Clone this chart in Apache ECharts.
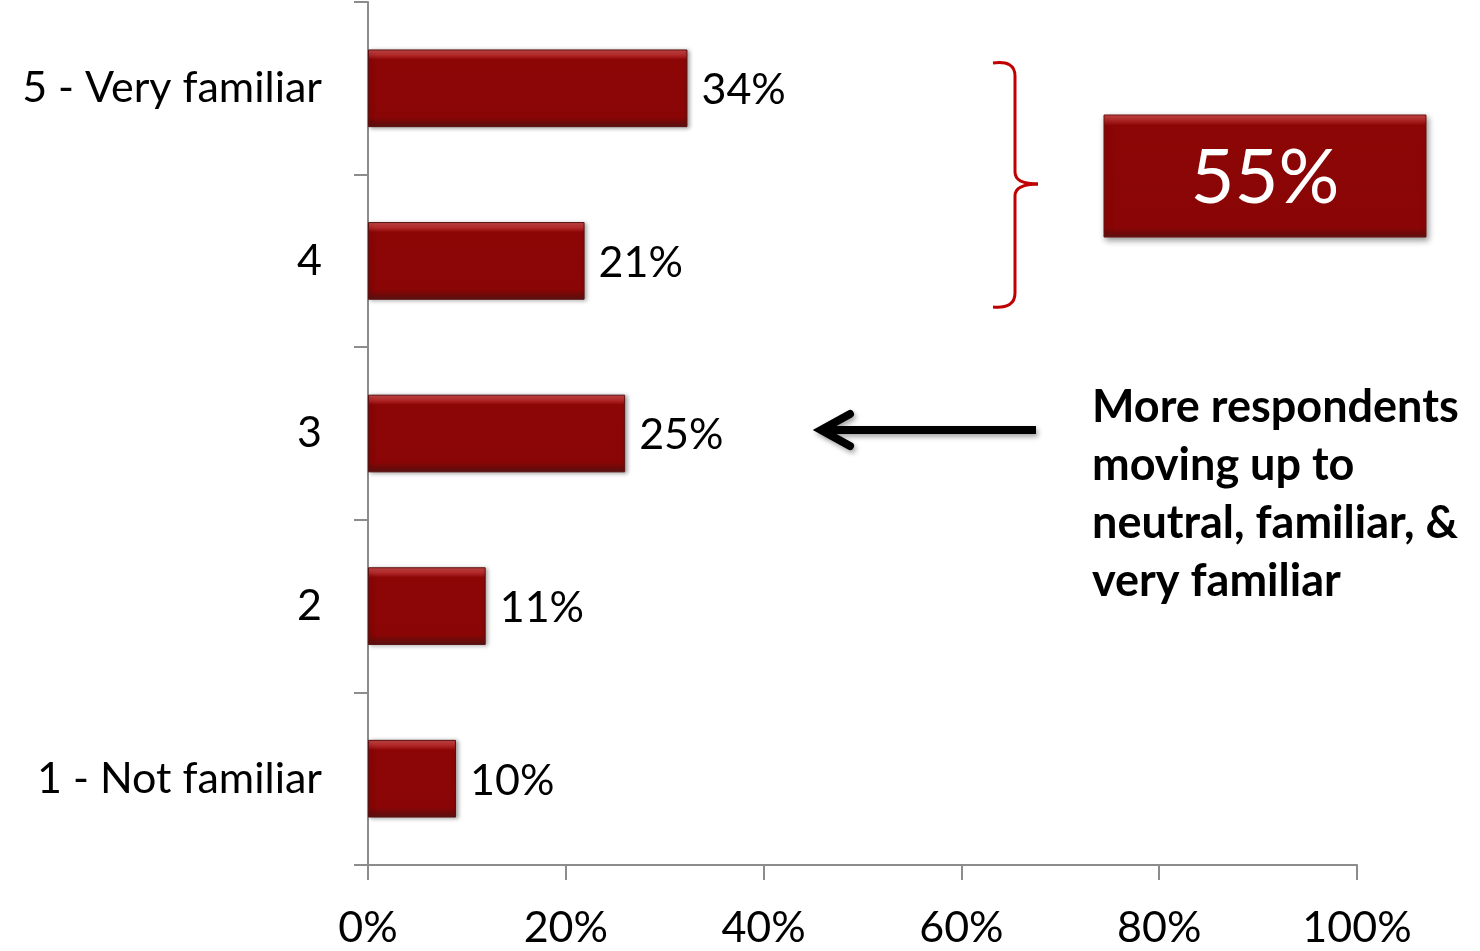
<!DOCTYPE html>
<html>
<head>
<meta charset="utf-8">
<script src="https://cdn.jsdelivr.net/npm/echarts@6/dist/echarts.min.js"></script>
<style>
html,body{margin:0;padding:0;background:#fff;}
#chart{width:1480px;height:951px;}
</style>
</head>
<body>
<div id="chart"></div>
<script>
// Data
const categories = ['1 - Not familiar', '2', '3', '4', '5 - Very familiar'];
const barLengths = [8.9, 11.9, 26.0, 21.9, 32.3];   // bar lengths as drawn (%)
const barLabels = ['10%', '11%', '25%', '21%', '34%']; // printed labels
const xTicks = [0, 20, 40, 60, 80, 100];
const topTwoLabel = '55%';
const noteLines = ['More respondents', 'moving up to', 'neutral, familiar, &', 'very familiar'];

const FONT = 'Lato';
const chart = echarts.init(document.getElementById('chart'), null, {renderer: 'canvas'});

const grad = (stops) => ({type: 'linear', x: 0, y: 0, x2: 0, y2: 1, colorStops: stops});

const barGradient = grad([
  {offset: 0, color: '#c94848'},
  {offset: 0.07, color: '#b52a2a'},
  {offset: 0.13, color: '#8c0606'},
  {offset: 0.87, color: '#8a0505'},
  {offset: 0.94, color: '#6e0a0a'},
  {offset: 1, color: '#5c1414'}
]);

const bracketStyle = {stroke: '#c00000', lineWidth: 3, fill: null};
const curve = (x1, y1, cx, cy, x2, y2) => ({type: 'bezierCurve', shape: {x1, y1, cpx1: cx, cpy1: cy, x2, y2}, style: bracketStyle});
const seg = (x1, y1, x2, y2) => ({type: 'line', shape: {x1, y1, x2, y2}, style: bracketStyle});

const option = {
  animation: false,
  backgroundColor: '#ffffff',
  grid: {left: 368, right: 123, top: 2, bottom: 86, containLabel: false},
  xAxis: {
    type: 'value', min: 0, max: 100, interval: 20,
    axisLine: {show: true, lineStyle: {color: '#8c8c8c', width: 2}},
    axisTick: {show: true, length: 15, lineStyle: {color: '#8c8c8c', width: 2}},
    splitLine: {show: false},
    axisLabel: {
      margin: 42, fontFamily: FONT, fontSize: 43, color: '#000',
      formatter: v => xTicks.includes(v) ? v + '%' : ''
    }
  },
  yAxis: {
    type: 'category', data: categories,
    axisLine: {show: true, lineStyle: {color: '#8c8c8c', width: 2}},
    axisTick: {show: true, length: 14, lineStyle: {color: '#8c8c8c', width: 2}},
    axisLabel: {margin: 46, fontFamily: FONT, fontSize: 43, color: '#000'}
  },
  series: [{
    type: 'bar',
    data: barLengths,
    barCategoryGap: '55%',
    itemStyle: {
      color: barGradient,
      borderColor: '#5a1010', borderWidth: 1,
      shadowColor: 'rgba(0,0,0,0.35)', shadowBlur: 4, shadowOffsetX: 2, shadowOffsetY: 1
    },
    label: {
      show: true, position: 'right', distance: 14,
      fontFamily: FONT, fontSize: 43, color: '#000',
      offset: [0, 2],
      formatter: p => barLabels[p.dataIndex]
    }
  }],
  graphic: [
    // bracket
    curve(993, 63, 1015, 60, 1015, 76),
    seg(1015, 76, 1015, 172),
    curve(1015, 172, 1015, 184, 1038, 184),
    curve(1038, 184, 1015, 184, 1015, 196),
    seg(1015, 196, 1015, 293),
    curve(1015, 293, 1015, 309, 993, 307),
    // 55% box
    {
      type: 'rect',
      shape: {x: 1104, y: 115, width: 322, height: 122},
      style: {
        fill: grad([
          {offset: 0, color: '#c94848'},
          {offset: 0.05, color: '#b02424'},
          {offset: 0.09, color: '#8c0606'},
          {offset: 0.92, color: '#8a0505'},
          {offset: 0.97, color: '#6e0a0a'},
          {offset: 1, color: '#5c1414'}
        ]),
        stroke: '#6a1010', lineWidth: 1,
        shadowColor: 'rgba(0,0,0,0.4)', shadowBlur: 6, shadowOffsetX: 2, shadowOffsetY: 3
      }
    },
    {
      type: 'text',
      x: 1265, y: 178,
      style: {text: topTwoLabel, fill: '#fff', font: '76px ' + FONT, align: 'center', verticalAlign: 'middle'}
    },
    // arrow
    {
      type: 'line',
      shape: {x1: 1036, y1: 430, x2: 824, y2: 430},
      style: {stroke: '#000', lineWidth: 8, shadowColor: 'rgba(0,0,0,0.35)', shadowBlur: 5, shadowOffsetX: 2, shadowOffsetY: 3}
    },
    {
      type: 'polyline',
      shape: {points: [[850, 414], [821, 430], [850, 446]]},
      style: {stroke: '#000', lineWidth: 8, lineCap: 'round', lineJoin: 'miter', fill: null,
        shadowColor: 'rgba(0,0,0,0.35)', shadowBlur: 5, shadowOffsetX: 2, shadowOffsetY: 3}
    },
    // note text
    ...noteLines.map((t, i) => ({
      type: 'text',
      x: 1092, y: 407 + i * 58,
      style: {text: t, fill: '#000', font: 'bold 45px ' + FONT, align: 'left', verticalAlign: 'middle'}
    }))
  ]
};
chart.setOption(option);
</script>
</body>
</html>
